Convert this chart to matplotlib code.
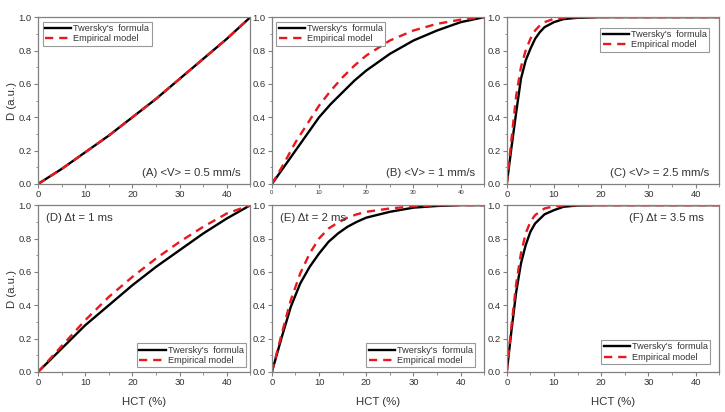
import numpy as np
import matplotlib.pyplot as plt
from matplotlib.ticker import MultipleLocator

plt.rcParams['font.family'] = ['Liberation Sans', 'DejaVu Sans']

# ---------------------------------------------------------------------------
# Data (HCT in %, D in a.u.)
# ---------------------------------------------------------------------------
hct_a = [0, 5, 10, 15, 20, 25, 30, 35, 40, 45]
tw_a = [0, 0.09, 0.19, 0.29, 0.40, 0.51, 0.63, 0.75, 0.87, 1.0]
em_a = [0, 0.09, 0.19, 0.29, 0.40, 0.51, 0.63, 0.75, 0.87, 1.0]

hct_b = [0, 2.5, 5, 7.5, 10, 12.5, 15, 17.5, 20, 25, 30, 35, 40, 45]
tw_b = [0, 0.10, 0.20, 0.30, 0.40, 0.48, 0.55, 0.62, 0.68, 0.78, 0.86, 0.92, 0.97, 1.0]
em_b = [0, 0.12, 0.25, 0.36, 0.47, 0.56, 0.64, 0.71, 0.77, 0.86, 0.92, 0.96, 0.985, 1.0]

hct_c = [0, 1, 2, 3, 4, 5, 6, 7, 8, 10, 12, 15, 20, 30, 45]
tw_c = [0, 0.22, 0.43, 0.63, 0.74, 0.81, 0.87, 0.91, 0.94, 0.97, 0.988, 0.996, 1.0, 1.0, 1.0]
em_c = [0, 0.27, 0.53, 0.70, 0.80, 0.87, 0.92, 0.95, 0.97, 0.99, 0.997, 1.0, 1.0, 1.0, 1.0]

hct_d = [0, 5, 10, 15, 20, 25, 30, 35, 40, 45]
tw_d = [0, 0.14, 0.28, 0.40, 0.52, 0.63, 0.73, 0.83, 0.92, 1.0]
em_d = [0, 0.155, 0.31, 0.45, 0.57, 0.68, 0.78, 0.87, 0.95, 1.0]

hct_e = [0, 2, 4, 6, 8, 10, 12, 14, 16, 18, 20, 25, 30, 35, 40, 45]
tw_e = [0, 0.20, 0.39, 0.53, 0.63, 0.71, 0.78, 0.83, 0.87, 0.90, 0.925, 0.96, 0.985, 0.995, 1.0, 1.0]
em_e = [0, 0.22, 0.43, 0.59, 0.71, 0.80, 0.86, 0.895, 0.925, 0.945, 0.96, 0.98, 0.993, 1.0, 1.0, 1.0]

hct_f = [0, 1, 2, 3, 4, 5, 6, 8, 10, 12, 15, 20, 30, 45]
tw_f = [0, 0.25, 0.48, 0.65, 0.76, 0.84, 0.89, 0.945, 0.97, 0.99, 0.998, 1.0, 1.0, 1.0]
em_f = [0, 0.28, 0.53, 0.71, 0.83, 0.90, 0.94, 0.98, 0.993, 0.998, 1.0, 1.0, 1.0, 1.0]

panel_labels = ["(A) <V> = 0.5 mm/s", "(B) <V> = 1 mm/s", "(C) <V> = 2.5 mm/s",
                "(D) \u0394t = 1 ms", "(E) \u0394t = 2 ms", "(F) \u0394t = 3.5 ms"]

series = [(hct_a, tw_a, em_a), (hct_b, tw_b, em_b), (hct_c, tw_c, em_c),
          (hct_d, tw_d, em_d), (hct_e, tw_e, em_e), (hct_f, tw_f, em_f)]

# label placement: (x, y, ha, va) in axes fraction
label_pos = [(0.955, 0.035, 'right', 'bottom'), (0.955, 0.035, 'right', 'bottom'),
             (0.955, 0.035, 'right', 'bottom'), (0.04, 0.95, 'left', 'top'),
             (0.04, 0.95, 'left', 'top'), (0.93, 0.95, 'right', 'top')]
# legend corner + anchor in axes fraction
legend_locs = [('upper left', (0.0, 1.0)), ('upper left', (0.0, 1.0)),
               ('upper right', (0.975, 0.965)), ('lower right', (1.0, 0.0)),
               ('lower right', (0.98, 0.0)), ('lower right', (0.98, 0.02))]

# axes rectangles in figure fraction [left, bottom, width, height]
lefts = [0.0524, 0.375, 0.699]
width = 0.293
rows_bottom = [0.5534, 0.0971]
height = 0.405

spine_col = '#808080'
text_col = '#333333'

fig = plt.figure(figsize=(7.25, 4.12), dpi=100)

for i, ((x, tw, em), lab) in enumerate(zip(series, panel_labels)):
    r, c = divmod(i, 3)
    ax = fig.add_axes([lefts[c], rows_bottom[r], width, height])
    ax.plot(x, tw, color='black', lw=1.7, label="Twersky's  formula")
    ax.plot(x, em, color='#e8191e', lw=1.7, linestyle=(0, (3.5, 2.5)),
            label="Empirical model")

    ax.set_xlim(0, 45)
    ax.set_ylim(0, 1.0)
    ax.xaxis.set_major_locator(MultipleLocator(10))
    ax.xaxis.set_minor_locator(MultipleLocator(5))
    ax.yaxis.set_major_locator(MultipleLocator(0.2))
    ax.yaxis.set_minor_locator(MultipleLocator(0.1))
    ax.yaxis.set_major_formatter(plt.FormatStrFormatter('%.1f'))

    for s in ax.spines.values():
        s.set_color(spine_col)
        s.set_linewidth(0.9)
    ax.tick_params(which='both', direction='out', colors=spine_col,
                   labelcolor=text_col, labelsize=6.8, pad=1.5)
    ax.tick_params(which='major', length=3)
    ax.tick_params(which='minor', length=1.8)
    if i == 1:
        ax.tick_params(axis='x', labelsize=4.3)

    ax.text(*label_pos[i][:2], lab, transform=ax.transAxes,
            ha=label_pos[i][2], va=label_pos[i][3], fontsize=8.2, color=text_col)

    loc, anchor = legend_locs[i]
    leg = ax.legend(loc=loc, bbox_to_anchor=anchor, fontsize=6.6, frameon=True,
                    fancybox=False, handlelength=2.9, handletextpad=0.2,
                    borderpad=0.25, labelspacing=0.15, borderaxespad=0.5)
    leg.get_frame().set_edgecolor(spine_col)
    leg.get_frame().set_linewidth(0.8)
    for t in leg.get_texts():
        t.set_color(text_col)

    if c == 0:
        ax.set_ylabel("D (a.u.)", fontsize=8.2, color=text_col, labelpad=1)
    if r == 1:
        ax.set_xlabel("HCT (%)", fontsize=8.2, color=text_col, labelpad=7)

fig.savefig("out.png", dpi=100)
